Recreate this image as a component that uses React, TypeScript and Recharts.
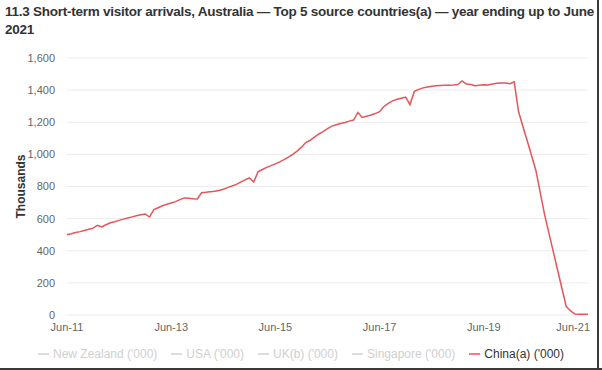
import React from "react";
import { LineChart, Line, XAxis, YAxis, CartesianGrid } from "recharts";

const monthNames = ["Jan", "Feb", "Mar", "Apr", "May", "Jun", "Jul", "Aug", "Sep", "Oct", "Nov", "Dec"];

// Categories: Jun-11 .. Jun-21 (monthly)
const months: string[] = [];
for (let y = 11; y <= 21; y++) {
  for (let m = 0; m < 12; m++) {
    if (y === 11 && m < 5) continue;
    if (y === 21 && m > 5) continue;
    months.push(`${monthNames[m]}-${y}`);
  }
}

// China(a) ('000), year ending, thousands
const chinaValues = [
  500, 506, 513, 519, 526, 534, 541, 558, 548, 562,
  574, 581, 589, 597, 604, 611, 618, 624, 629, 610,
  656, 668, 680, 689, 697, 706, 718, 729, 727, 724,
  722, 761, 764, 768, 771, 775, 783, 793, 803, 813,
  827, 841, 853, 828, 891, 906, 919, 930, 941, 953,
  967, 983, 1000, 1020, 1045, 1074, 1088, 1108, 1127, 1142,
  1160, 1176, 1184, 1192, 1199, 1207, 1214, 1261, 1230, 1237,
  1245, 1254, 1266, 1298, 1318, 1333, 1343, 1350, 1356, 1310,
  1392, 1405, 1414, 1420, 1424, 1427, 1429, 1430, 1431, 1432,
  1435, 1457, 1438, 1435, 1427, 1431, 1433, 1432, 1438, 1443,
  1444, 1444, 1440, 1452, 1267, 1175, 1085, 993, 900, 762,
  625, 510, 395, 280, 165, 52, 25, 6, 5, 5,
  5,
];

const yTicks = [0, 200, 400, 600, 800, 1000, 1200, 1400, 1600];

const legendLabels = [
  "New Zealand ('000)",
  "USA ('000)",
  "UK(b) ('000)",
  "Singapore ('000)",
  "China(a) ('000)",
];
const activeSeries = "China(a) ('000)";

const titleText =
  "11.3 Short-term visitor arrivals, Australia \u2014 Top 5 source countries(a) \u2014 year ending up to June 2021";

const data = months.map((m, i) => ({ month: m, china: chinaValues[i] }));

const LINE_COLOR = "#e3565a";
const FONT = "'Liberation Sans', Arial, Helvetica, sans-serif";

const XTick = (props: any) => {
  const { x, y, payload } = props;
  const isLast = payload.value === months[months.length - 1];
  return (
    <text
      x={isLast ? x + 2 : x}
      y={y}
      dy={8}
      textAnchor={isLast ? "end" : "middle"}
      fill="#666"
      fontSize={11}
      fontFamily={FONT}
    >
      {payload.value}
    </text>
  );
};

export default function App() {
  return (
    <div
      style={{
        position: "absolute",
        left: 0,
        top: 0,
        width: 602,
        height: 370,
        background: "#fff",
        fontFamily: FONT,
        overflow: "hidden",
      }}
    >
      <div
        style={{
          position: "absolute",
          left: 5,
          top: 3,
          width: 590,
          fontSize: 13.5,
          letterSpacing: -0.25,
          lineHeight: "18px",
          fontWeight: 600,
          color: "#333",
        }}
      >
        {titleText}
      </div>
      <div style={{ position: "absolute", left: 0, top: 0 }}>
        <LineChart
          width={602}
          height={370}
          data={data}
          margin={{ top: 58, right: 14, bottom: 25, left: 0 }}
        >
          <CartesianGrid vertical={false} stroke="#ececec" strokeWidth={1} />
          <XAxis
            dataKey="month"
            interval={23}
            axisLine={false}
            tickLine={false}
            tick={<XTick />}
            height={30}
          />
          <YAxis
            domain={[0, 1600]}
            ticks={yTicks}
            width={67}
            axisLine={false}
            tickLine={false}
            tickMargin={6}
            tick={{ fill: "#666", fontSize: 11, fontFamily: FONT }}
            tickFormatter={(v: number) => v.toLocaleString("en-US")}
            label={{
              value: "Thousands",
              angle: -90,
              position: "insideLeft",
              offset: 0,
              dx: 21,
              style: { fill: "#333", fontSize: 12, fontWeight: 600, fontFamily: FONT, textAnchor: "middle" },
            }}
          />
          <Line
            type="linear"
            dataKey="china"
            stroke={LINE_COLOR}
            strokeWidth={1.5}
            dot={false}
            activeDot={false}
            isAnimationActive={false}
          />
        </LineChart>
      </div>
      <div
        style={{
          position: "absolute",
          left: 0,
          top: 346,
          width: 602,
          display: "flex",
          justifyContent: "center",
          gap: 14,
          fontSize: 12,
          lineHeight: "16px",
          paddingLeft: 0,
        }}
      >
        {legendLabels.map((l) => {
          const active = l === activeSeries;
          const c = active ? LINE_COLOR : "#d0d0d0";
          return (
            <div key={l} style={{ display: "flex", alignItems: "center", whiteSpace: "nowrap" }}>
              <svg width={11} height={10} style={{ marginRight: 4 }}>
                <line x1={0} y1={5} x2={11} y2={5} stroke={c} strokeWidth={1.5} />
              </svg>
              <span style={{ color: active ? "#333" : "#cfcfcf" }}>{l}</span>
            </div>
          );
        })}
      </div>
      <div style={{ position: "absolute", left: 597, top: 0, width: 2, height: 370, background: "#3a3a3a" }} />
      <div style={{ position: "absolute", left: 0, top: 368, width: 602, height: 2, background: "#3a3a3a" }} />
    </div>
  );
}
